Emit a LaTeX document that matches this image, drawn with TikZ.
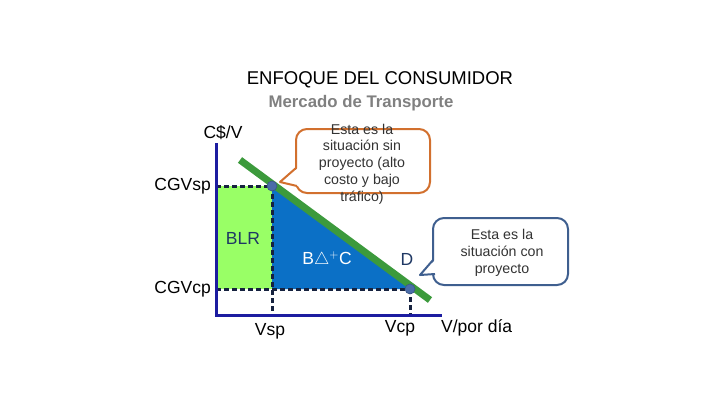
\documentclass[tikz,border=0pt]{standalone}
\usepackage{fontspec}
\setmainfont{Liberation Sans}
\usepackage{tikz}
\usetikzlibrary{positioning,calc}
\definecolor{cAxis}{HTML}{1C1CA0}
\definecolor{cDash}{HTML}{16223F}
\definecolor{cLime}{HTML}{99FF66}
\definecolor{cBlue}{HTML}{0B70C6}
\definecolor{cGreen}{HTML}{3C9A3C}
\definecolor{cDot}{HTML}{4A6CA8}
\definecolor{cOrange}{HTML}{D2702E}
\definecolor{cSlate}{HTML}{3F5F8F}
\definecolor{cNavy}{HTML}{1F3864}
\definecolor{cGrayT}{HTML}{808080}
\definecolor{cText}{HTML}{333333}

\begin{document}
\begin{tikzpicture}[
    x=1pt, y=-1pt,
    axis/.style={draw=cAxis, line width=3pt},
    guide/.style={draw=cDash, line width=3pt, dash pattern=on 5pt off 3pt},
    dot/.style={circle, fill=cDot, draw=cDot!80!black, line width=0.6pt, inner sep=0pt, minimum size=10pt},
    lbl/.style={font=\fontsize{17.5}{20}\selectfont, inner sep=1pt},
    note/.style={rounded corners=11pt, line width=2pt, fill=white},
    notetxt/.style={font=\fontsize{14.2}{16.8}\selectfont, text=cText, align=center, inner sep=0pt}]

    \useasboundingbox (0,0) rectangle (720,405);

    % title
    \node[font=\fontsize{18.5}{21}\selectfont] (title) at (380,80) {ENFOQUE DEL CONSUMIDOR};
    \node[font=\bfseries\fontsize{16.8}{19}\selectfont, text=cGrayT] (sub) at (361,103) {Mercado de Transporte};

    % key points
    \coordinate (O)  at (216,315);
    \coordinate (A)  at (272,186);
    \coordinate (B)  at (410,289);
    \coordinate (Ay) at (216,186);
    \coordinate (By) at (216,289);
    \coordinate (Ax) at (272,315);
    \coordinate (Bx) at (410,315);

    % areas
    \fill[cLime] (Ay) rectangle (272,289);
    \fill[cBlue] (A) -- (272,289) -- (B) -- cycle;

    % guides
    \draw[guide] (Ay) -- (A);
    \draw[guide] (By) -- (B);
    \draw[guide] (A) -- (Ax);
    \draw[guide] (B) -- (Bx);

    % axes
    \draw[axis] (216,143) -- (O) -- (442,315);

    % demand
    \draw[cGreen, line width=7pt] (240,160) -- (430,300);
    \node[dot] (pA) at (A) {};
    \node[dot] (pB) at (B) {};

    % labels
    \node[lbl] (cv)    at (223,133) {C\$/V};
    \node[lbl, anchor=east] (cgvsp) at (212,186) {CGVsp};
    \node[lbl, anchor=east] (cgvcp) at (212,289) {CGVcp};
    \node[lbl, text=cNavy] (blr) at (243,238) {BLR};
    \node[lbl, text=white] (bdc) at (327,260) {B$\triangle^{+}$C};
    \node[lbl, text=cNavy] (dd)  at (407,259) {D};
    \node[lbl] (vsp) at (270,331) {Vsp};
    \node[lbl] (vcp) at (400,328) {Vcp};
    \node[lbl, anchor=west] (vpd) at (440,328) {V/por día};

    % callout sin proyecto
    \coordinate (tipA) at (280,182);
    \draw[note, draw=cOrange] (296,129) rectangle (430,193);
    \fill[white] (298,168) -- (tipA) -- (298,186) -- cycle;
    \draw[cOrange, line width=2pt, line join=round] (296,168) -- (tipA) -- (297,186);
    \node[notetxt] (sinp) at (362,164) {Esta es la\\situación sin\\proyecto (alto\\costo y bajo\\tráfico)};

    % callout con proyecto
    \coordinate (tipB) at (420,275);
    \draw[note, draw=cSlate] (433,218) rectangle (568,285);
    \fill[white] (435,260) -- (tipB) -- (435,274) -- cycle;
    \draw[cSlate, line width=2pt, line join=round] (433,260) -- (tipB) -- (435,274);
    \node[notetxt] (conp) at (502,253) {Esta es la\\situación con\\proyecto};
\end{tikzpicture}
\end{document}
